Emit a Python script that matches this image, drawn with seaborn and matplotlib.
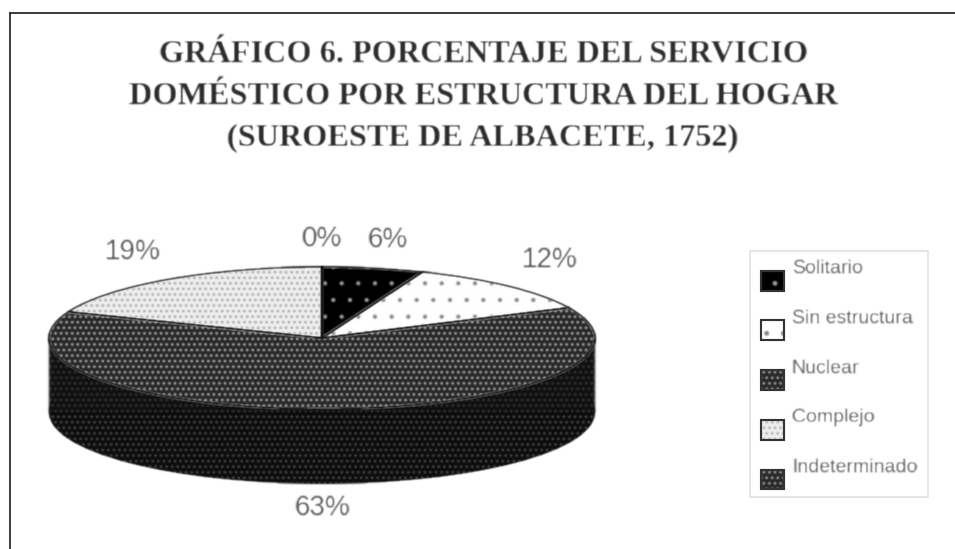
"""Pie chart of domestic service by household structure (3D look)."""

import numpy as np
import seaborn as sns
import matplotlib.pyplot as plt
from matplotlib.lines import Line2D
from matplotlib.patches import Patch, Rectangle

TITLE = ["GRÁFICO 6. PORCENTAJE DEL SERVICIO",
         "DOMÉSTICO POR ESTRUCTURA DEL HOGAR",
         "(SUROESTE DE ALBACETE, 1752)"]
categories = ["Solitario", "Sin estructura", "Nuclear", "Complejo", "Indeterminado"]
values = [6, 12, 63, 19, 0]

face_colors = ["#000000", "#ffffff", "#262626", "#f0f0f0", "#262626"]
hatch_colors = ["#a0a0a0", "#808080", "#bdbdbd", "#a0a0a0", "#bdbdbd"]
hatches = [".", ".", "...", "...", "..."]
hatch_widths = [0.6, 0.5, 1.1, 1.1, 1.1]
label_pos = [(388, 240), (550, 260), (322, 508), (133, 252), (322, 239)]

W, H = 955, 549


def fx(x):
    return x / W


def fy(y):
    return 1 - y / H


def soften(image, dpi, sigma=0.8):
    """ Small gaussian blur, the reference is a blurry scan. """
    radius = 3
    pad = radius
    kernel = np.exp(-0.5 * (np.arange(-radius, radius + 1) / sigma) ** 2)
    kernel /= kernel.sum()
    padded = np.pad(image, ((pad, pad), (pad, pad), (0, 0)))
    for axis in (0, 1):
        padded = np.apply_along_axis(np.convolve, axis, padded, kernel, mode="same")
    return padded, -pad, -pad


def draw_disc(ax):
    wedges, _ = ax.pie(values, startangle=90, counterclock=False,
                       colors=face_colors, wedgeprops={"linewidth": 0})
    for wedge, hatch, color, width in zip(wedges, hatches, hatch_colors, hatch_widths):
        wedge.set_hatch(hatch)
        wedge.set_edgecolor(color)
        wedge.set_hatch_linewidth(width)
        wedge.set_agg_filter(soften)


def main():
    sns.set_style("white")
    plt.rcParams["hatch.linewidth"] = 1.0
    fig = plt.figure(figsize=(W / 100, H / 100), dpi=100)

    # unit circle maps to the top ellipse of the pie
    left, right, top, mid_bottom, bottom = 49, 595, 267, 409, 484
    depth = 2 * (bottom - mid_bottom) / (mid_bottom - top)
    ax = fig.add_axes([fx(left), fy(bottom), (right - left) / W, (bottom - top) / H])

    # side wall: lower disc plus the band between the two discs
    wall, _ = ax.pie([1], center=(0, -depth), startangle=0, colors=["#0c0c0c"],
                     wedgeprops={"linewidth": 0, "hatch": "...", "edgecolor": "#555555"})
    wall[0].set_agg_filter(soften)
    band = ax.fill_between([-1, 1], [-depth, -depth], [0, 0], facecolor="#0c0c0c",
                           edgecolor="#555555", hatch="...", linewidth=0)
    band.set_agg_filter(soften)
    draw_disc(ax)
    outline, _ = ax.pie(values, startangle=90, counterclock=False, colors=["none"] * 5,
                        wedgeprops={"linewidth": 1.2, "edgecolor": "#111111"})
    for wedge in outline:
        wedge.set_agg_filter(soften)
    ax.set_aspect("auto")
    ax.set_xlim(-1, 1)
    ax.set_ylim(-1 - depth, 1)
    ax.set_axis_off()

    # page frame, open on the right side
    frame_color = "#1a1a1a"
    fig.add_artist(Line2D([fx(10), fx(10)], [0, fy(13)], color=frame_color, lw=1.2))
    fig.add_artist(Line2D([fx(10), 1], [fy(13), fy(13)], color=frame_color, lw=1.2))

    for line, y in zip(TITLE, [55, 96, 138]):
        text = fig.text(fx(483), fy(y), line, ha="center", va="center", fontsize=23.2,
                        fontweight="bold", family="Liberation Serif", color="#2a2a2a")
        text.set_agg_filter(soften)

    for value, (x, y) in zip(values, label_pos):
        text = fig.text(fx(x), fy(y), f"{value}%", ha="center", va="center", fontsize=20,
                        family="Liberation Sans", color="#555555")
        text.set_agg_filter(soften)

    # legend box is separate because the labels sit high in it
    fig.add_artist(Rectangle((fx(750), fy(497)), 178 / W, 246 / H, fill=False,
                             edgecolor="#e2e2e2", lw=1.2, transform=fig.transFigure))
    handles = [Patch(facecolor=f, edgecolor=c, hatch=h, lw=0)
               for f, c, h in zip(face_colors, hatch_colors, hatches)]
    leg = fig.legend(handles, categories, loc="center", bbox_to_anchor=(fx(839), fy(366.5)),
                     frameon=False, prop={"family": "Liberation Sans", "size": 14},
                     labelcolor="#555555", handlelength=1.2, handleheight=1.2,
                     labelspacing=1.5, handletextpad=0.4, borderpad=0.6, borderaxespad=0)
    for text in leg.get_texts():
        text.set_agg_filter(soften)
    for handle in leg.legend_handles:
        handle.set_y(handle.get_y() - 10)
        handle.set_agg_filter(soften)
        # the patch edge colour is taken by the hatch, so the swatch border is separate
        border = Rectangle((handle.get_x(), handle.get_y()), handle.get_width(),
                           handle.get_height(), fill=False, edgecolor="#333333", lw=1.5,
                           transform=handle.get_data_transform(), zorder=6)
        fig.add_artist(border)

    fig.savefig("out.png", dpi=100)


if __name__ == "__main__":
    main()
